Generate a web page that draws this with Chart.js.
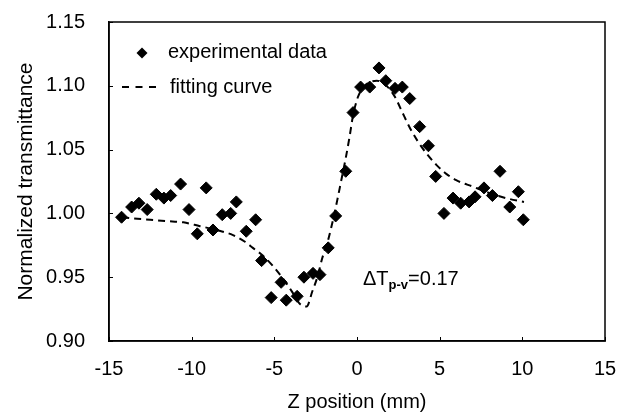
<!DOCTYPE html>
<html><head><meta charset="utf-8">
<script src="https://cdn.jsdelivr.net/npm/chart.js@4.4.1/dist/chart.umd.min.js"></script>
<style>html,body{margin:0;padding:0;background:#fff;}#wrap{width:628px;height:415px;}</style>
</head><body><div id="wrap"><canvas id="c" width="628" height="415"></canvas></div>
<script>
// ---- data ----
const xTickValues = [-15, -10, -5, 0, 5, 10, 15];
const yTickValues = [0.90, 0.95, 1.00, 1.05, 1.10, 1.15];

const expX = [-14.24,-13.63,-13.19,-12.69,-12.14,-11.68,-11.27,-10.67,-10.16,-9.66,
  -9.12,-8.71,-8.15,-7.64,-7.30,-6.70,-6.13,-5.77,-5.19,-4.59,
  -4.28,-3.62,-3.21,-2.66,-2.24,-1.74,-1.29,-0.68,-0.24,0.22,
  0.77,1.33,1.74,2.30,2.74,3.19,3.79,4.32,4.76,5.26,
  5.81,6.27,6.78,7.14,7.68,8.19,8.65,9.24,9.76,10.06];
const expY = [0.997,1.005,1.008,1.003,1.015,1.012,1.014,1.023,1.003,0.984,
  1.020,0.987,0.999,1.000,1.009,0.986,0.995,0.963,0.934,0.946,
  0.932,0.935,0.950,0.953,0.952,0.973,0.998,1.033,1.079,1.099,
  1.099,1.114,1.104,1.098,1.099,1.090,1.068,1.053,1.029,1.000,
  1.012,1.008,1.009,1.013,1.020,1.014,1.033,1.005,1.017,0.995];

const fitX = [-14.2,-13.5,-12.5,-11.5,-10.5,-9.5,-8.5,-7.5,-6.8,-6.3,
  -5.7,-5.1,-4.6,-4.2,-3.8,-3.45,-3.05,-2.7,-2.4,-2.1,
  -1.75,-1.45,-1.2,-0.95,-0.7,-0.45,-0.25,0.05,0.4,0.8,
  1.2,1.6,2.0,2.35,2.75,3.2,3.7,4.2,4.8,5.4,
  6.0,7.0,8.0,9.0,10.1];
const fitY = [0.997,0.996,0.995,0.994,0.993,0.990,0.987,0.983,0.978,0.973,
  0.967,0.959,0.951,0.944,0.936,0.929,0.927,0.939,0.950,0.965,
  0.979,0.995,1.010,1.026,1.042,1.060,1.076,1.091,1.099,1.103,
  1.104,1.102,1.097,1.090,1.079,1.067,1.056,1.047,1.038,1.031,
  1.026,1.021,1.016,1.012,1.009];

const seriesNames = ['experimental data', 'fitting curve'];
const xTitle = 'Z position (mm)';
const yTitle = 'Normalized transmittance';
const noteMain = 'ΔT', noteSub = 'p-v', noteRest = '=0.17';

// ---- chart ----
const FONT = "'Liberation Sans', Arial, Helvetica, sans-serif";
const expData = expX.map((x, i) => ({x, y: expY[i]}));
const fitData = fitX.map((x, i) => ({x, y: fitY[i]}));

const framePlugin = {
  id: 'frame',
  afterDraw(chart) {
    const {ctx, chartArea: a, scales: {x, y}} = chart;
    ctx.save();
    ctx.strokeStyle = '#000';
    ctx.lineWidth = 1.5;
    ctx.setLineDash([]);
    ctx.strokeRect(a.left, a.top, a.right - a.left, a.bottom - a.top);
    ctx.lineWidth = 1;
    x.ticks.forEach(t => {
      const px = Math.round(x.getPixelForValue(t.value)) + 0.5;
      ctx.beginPath(); ctx.moveTo(px, a.bottom); ctx.lineTo(px, a.bottom - 4); ctx.stroke();
    });
    y.ticks.forEach(t => {
      const py = Math.round(y.getPixelForValue(t.value)) + 0.5;
      ctx.beginPath(); ctx.moveTo(a.left, py); ctx.lineTo(a.left + 4, py); ctx.stroke();
    });
    // legend inside the plot
    ctx.fillStyle = '#000';
    const dx = a.left + 33, dy = a.top + 31, r = 5.5;
    ctx.beginPath();
    ctx.moveTo(dx - r, dy); ctx.lineTo(dx, dy - r); ctx.lineTo(dx + r, dy); ctx.lineTo(dx, dy + r);
    ctx.closePath(); ctx.fill();
    ctx.font = '20px ' + FONT;
    ctx.textBaseline = 'alphabetic';
    ctx.textAlign = 'left';
    ctx.fillText(seriesNames[0], a.left + 59, a.top + 36);
    ctx.lineWidth = 2;
    ctx.setLineDash([7, 6.5]);
    ctx.beginPath(); ctx.moveTo(a.left + 13, a.top + 65); ctx.lineTo(a.left + 48, a.top + 65); ctx.stroke();
    ctx.setLineDash([]);
    ctx.fillText(seriesNames[1], a.left + 61, a.top + 71);
    // annotation
    let tx = 363, ty = 285;
    ctx.font = '20px ' + FONT;
    ctx.fillText(noteMain, tx, ty);
    tx += ctx.measureText(noteMain).width;
    ctx.font = 'bold 13px ' + FONT;
    ctx.fillText(noteSub, tx, ty + 4);
    tx += ctx.measureText(noteSub).width;
    ctx.font = '20px ' + FONT;
    ctx.fillText(noteRest, tx, ty);
    ctx.restore();
  }
};

new Chart(document.getElementById('c'), {
  type: 'scatter',
  data: {
    datasets: [
      {
        label: seriesNames[1],
        type: 'line',
        data: fitData,
        borderColor: '#000',
        borderWidth: 2,
        borderDash: [7, 5],
        pointRadius: 0,
        fill: false,
        cubicInterpolationMode: 'monotone',
        order: 2
      },
      {
        label: seriesNames[0],
        data: expData,
        pointStyle: 'rectRot',
        pointRadius: 6,
        pointBorderWidth: 1,
        backgroundColor: '#000',
        borderColor: '#000',
        order: 1
      }
    ]
  },
  options: {
    responsive: false,
    devicePixelRatio: 1,
    animation: false,
    layout: {padding: {top: 22, right: 23, left: 0, bottom: 0}},
    plugins: {legend: {display: false}, tooltip: {enabled: false}},
    scales: {
      x: {
        type: 'linear', min: -15, max: 15,
        afterBuildTicks: s => { s.ticks = xTickValues.map(v => ({value: v})); },
        afterFit: s => { s.height = 74; s.paddingLeft = 0; s.paddingRight = 0; },
        grid: {display: true, drawOnChartArea: false, drawTicks: false},
        border: {display: true, color: '#000', width: 1.5},
        ticks: {color: '#000', font: {family: FONT, size: 20}, padding: 16,
                maxRotation: 0, callback: v => String(v)},
        title: {display: true, text: xTitle, color: '#000',
                font: {family: FONT, size: 20}, padding: {top: 0, bottom: 1}}
      },
      y: {
        type: 'linear', min: 0.9, max: 1.15,
        afterBuildTicks: s => { s.ticks = yTickValues.map(v => ({value: v})); },
        afterFit: s => { s.width = 109; s.paddingTop = 0; s.paddingBottom = 0; },
        grid: {display: true, drawOnChartArea: false, drawTicks: false},
        border: {display: true, color: '#000', width: 1.5},
        ticks: {color: '#000', font: {family: FONT, size: 20}, padding: 24,
                callback: v => Number(v).toFixed(2)},
        title: {display: true, text: yTitle, color: '#000',
                font: {family: FONT, size: 21}, padding: {top: 14, bottom: 0}}
      }
    }
  },
  plugins: [framePlugin]
});
</script>
</body></html>
